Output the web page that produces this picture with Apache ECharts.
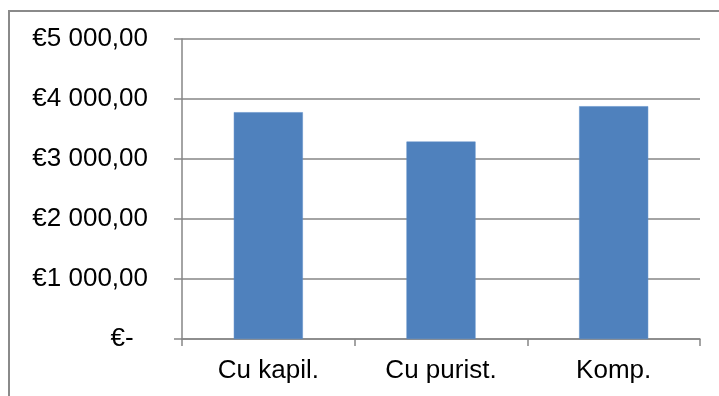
<!DOCTYPE html>
<html>
<head>
<meta charset="utf-8">
<script src="https://cdn.jsdelivr.net/npm/echarts@6/dist/echarts.min.js"></script>
<style>
html,body{margin:0;padding:0;background:#fff;}
#chart{width:719px;height:396px;}
</style>
</head>
<body>
<div id="chart"></div>
<script>
var categories = ['Cu kapil.', 'Cu purist.', 'Komp.'];
var values = [3780, 3290, 3880];
var yTicks = [0, 1000, 2000, 3000, 4000, 5000];

function fmtEuro(v) {
  if (v === 0) return '€-  ';
  var s = String(Math.round(v));
  s = s.replace(/\B(?=(\d{3})+(?!\d))/g, ' ');
  return '€' + s + ',00';
}

var chart = echarts.init(document.getElementById('chart'), null, {renderer: 'canvas'});
var axisColor = '#868686';
var font = '"Liberation Sans", Arial, sans-serif';
chart.setOption({
  animation: false,
  backgroundColor: '#ffffff',
  graphic: [{
    type: 'rect',
    shape: {x: 9, y: 11, width: 800, height: 500},
    style: {fill: 'none', stroke: '#8a8a8a', lineWidth: 2},
    silent: true
  }],
  grid: {left: 182, right: 19, top: 39, bottom: 57, containLabel: false},
  xAxis: {
    type: 'category',
    data: categories,
    boundaryGap: true,
    axisLine: {show: true, lineStyle: {color: axisColor, width: 1.5}},
    axisTick: {show: true, length: 7, lineStyle: {color: axisColor, width: 1.5}},
    axisLabel: {color: '#000', fontFamily: font, fontSize: 26, margin: 19}
  },
  yAxis: {
    type: 'value',
    min: yTicks[0],
    max: yTicks[yTicks.length - 1],
    interval: 1000,
    axisLine: {show: true, lineStyle: {color: axisColor, width: 1.5}},
    axisTick: {show: true, length: 8, lineStyle: {color: axisColor, width: 1.5}},
    splitLine: {show: true, lineStyle: {color: axisColor, width: 1.5}},
    axisLabel: {color: '#000', fontFamily: font, fontSize: 26, margin: 34, formatter: fmtEuro}
  },
  series: [{
    type: 'bar',
    data: values,
    barWidth: '40%',
    itemStyle: {color: '#4F81BD', borderColor: '#5b8dc9', borderWidth: 0.5}
  }]
});
</script>
</body>
</html>
